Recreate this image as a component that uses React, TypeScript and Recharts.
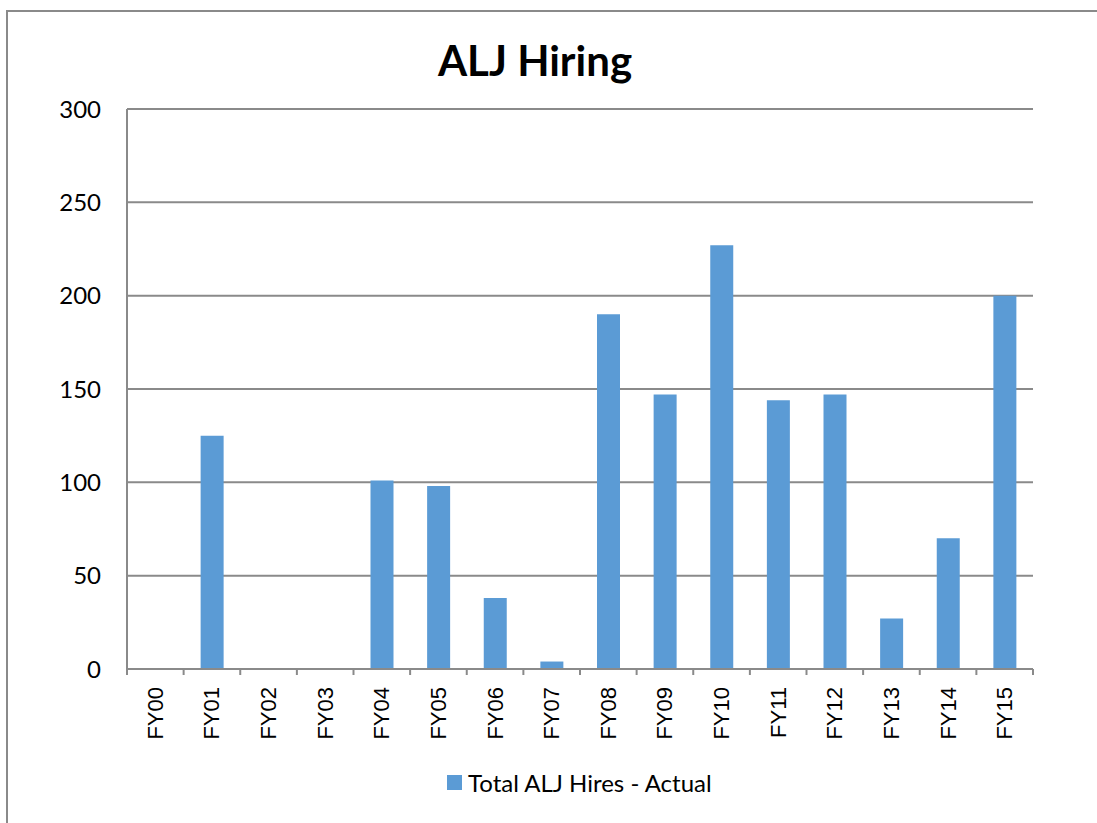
import { Bar, BarChart, CartesianGrid, XAxis, YAxis } from 'recharts';

const categories = ['FY00', 'FY01', 'FY02', 'FY03', 'FY04', 'FY05', 'FY06', 'FY07', 'FY08', 'FY09', 'FY10', 'FY11', 'FY12', 'FY13', 'FY14', 'FY15'];
const hires = [0, 125, 0, 0, 101, 98, 38, 4, 190, 147, 227, 144, 147, 27, 70, 200];
const yTicks = [0, 50, 100, 150, 200, 250, 300];

const data = categories.map((fy, i) => ({ fy, hires: hires[i] }));

const W = 1097;
const H = 823;
const margin = { top: 109, right: 64, left: 0, bottom: 74 };
const yAxisWidth = 127;
const band = (W - margin.right - yAxisWidth) / categories.length;
const grey = '#8a8a8a';
const blue = '#5B9BD5';

function FyTick(props: any) {
    const { x, y, payload, index } = props;
    return <g>
        <line x1={x - band / 2} x2={x - band / 2} y1={y} y2={y + 6} stroke={grey} strokeWidth={2} />
        {index === categories.length - 1 &&
            <line x1={x + band / 2} x2={x + band / 2} y1={y} y2={y + 6} stroke={grey} strokeWidth={2} />}
        <text x={x} y={y + 18} transform={`rotate(-90, ${x}, ${y + 18})`} textAnchor="end" dominantBaseline="central"
            fontFamily="'Liberation Sans', Arial, sans-serif" fontSize={22} fill="#000">
            {payload.value}
        </text>
    </g>
}

export default function App() {
    return <div style={{ position: 'fixed', left: 0, top: 0, width: W, height: H, background: '#fff', overflow: 'hidden' }}>
        <div style={{ position: 'absolute', left: 6, top: 10, width: 1100, height: 820, border: `2px solid ${grey}` }} />
        <div style={{ position: 'absolute', left: 0, width: 1070, top: 33, textAlign: 'center', fontFamily: 'Lato, sans-serif', fontWeight: 'bold', fontSize: 42, lineHeight: '54px' }}>
            ALJ Hiring
        </div>
        <div style={{ position: 'absolute', left: 0, top: 0 }}>
            <BarChart width={W} height={H} data={data} margin={margin}>
                <CartesianGrid vertical={false} stroke={grey} strokeWidth={2} />
                <XAxis dataKey="fy" height={80} axisLine={{ stroke: grey, strokeWidth: 2 }} tickLine={false} tickSize={0} tickMargin={0}
                    interval={0} tick={<FyTick />} />
                <YAxis width={yAxisWidth} domain={[0, 300]} ticks={yTicks} axisLine={{ stroke: grey, strokeWidth: 2 }} tickLine={false}
                    tickSize={0} tickMargin={26} tick={{ fill: '#000', fontSize: 24, fontFamily: 'Lato, sans-serif' }} />
                <Bar dataKey="hires" fill={blue} barSize={23} isAnimationActive={false} />
            </BarChart>
        </div>
        <div style={{ position: 'absolute', left: 447, top: 768, display: 'flex', alignItems: 'center', fontFamily: 'Lato, sans-serif', fontSize: 24 }}>
            <span style={{ display: 'inline-block', width: 15, height: 15, background: blue, marginRight: 6 }} />
            <span>Total ALJ Hires - Actual</span>
        </div>
    </div>
}
